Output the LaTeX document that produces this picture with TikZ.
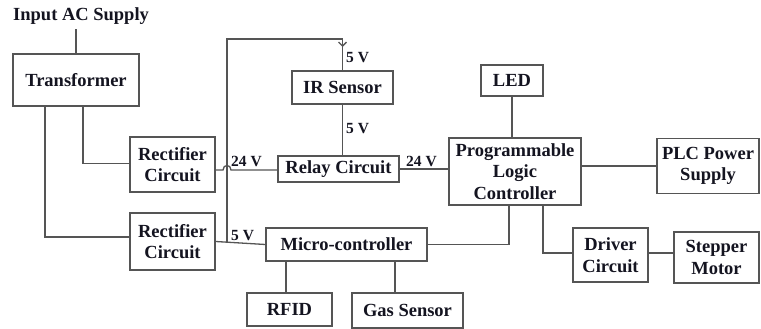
\documentclass[tikz,border=0pt]{standalone}
\usepackage{fontspec}
\setmainfont{Liberation Serif}
\usetikzlibrary{arrows.meta,decorations.markings}
\definecolor{linegray}{HTML}{555555}
\definecolor{txt}{HTML}{141420}
\begin{document}
\begin{tikzpicture}[x=1pt,y=-1pt,
  box/.style={draw=linegray,line width=1.3pt,inner sep=0pt,align=center,
    text=txt,font=\fontsize{18.5}{21.5}\selectfont\bfseries},
  lbl/.style={anchor=base west,inner sep=0pt,text=txt,font=\fontsize{15.5}{17}\selectfont\bfseries},
  wire/.style={draw=linegray,line width=1.3pt}]
\useasboundingbox (0,0) rectangle (761,329);
% nodes
\node[lbl,font=\fontsize{18.5}{21}\selectfont\bfseries] (inac) at (13,21) {Input AC Supply};
\node[box,minimum width=126,minimum height=52] (trans) at (76,80) {Transformer};
\node[box,minimum width=85,minimum height=55] (rect1) at (172.5,164.5) {Rectifier\\Circuit};
\node[box,minimum width=85,minimum height=57] (rect2) at (172.5,241.5) {Rectifier\\Circuit};
\node[box,minimum width=101,minimum height=33] (ir) at (342.5,87.5) {IR Sensor};
\node[box,minimum width=121,minimum height=26] (relay) at (338.5,169) {Relay Circuit};
\node[box,minimum width=132,minimum height=67] (plc) at (515,171.5) {Programmable\\Logic\\Controller};
\node[box,minimum width=62,minimum height=31] (led) at (512,80.5) {LED};
\node[box,minimum width=102,minimum height=55] (plcps) at (708,166) {PLC Power\\Supply};
\node[box,minimum width=161,minimum height=33] (micro) at (346.5,244.5) {Micro-controller};
\node[box,minimum width=85,minimum height=33] (rfid) at (289.5,309.5) {RFID};
\node[box,minimum width=111,minimum height=35] (gas) at (407.5,310.5) {Gas Sensor};
\node[box,minimum width=75,minimum height=54] (driver) at (610.5,255) {Driver\\Circuit};
\node[box,minimum width=85,minimum height=51] (stepper) at (716.5,257.5) {Stepper\\Motor};
% helper coordinates
\coordinate (t1) at (83,0);
\coordinate (t2) at (45,0);
\coordinate (bustop) at (227,39);
\coordinate (hopL) at (223,170);
\coordinate (hopR) at (231,170);
\coordinate (c1) at (509,0);
\coordinate (c2) at (543,0);
\coordinate (c3) at (286,0);
\coordinate (c4) at (395,0);
% labels
\node[lbl] (v5a) at (346,63) {5 V};
\node[lbl] (v5b) at (346,133) {5 V};
\node[lbl] (v24a) at (231,166) {24 V};
\node[lbl] (v24b) at (406,166) {24 V};
\node[lbl] (v5c) at (231,240) {5 V};
% connectors
\draw[wire] ([yshift=-4pt]inac.south -| trans.north) -- (trans.north);
\draw[wire] (trans.south -| t1) |- ([yshift=1pt]rect1.west);
\draw[wire] (trans.south -| t2) |- ([yshift=4.5pt]rect2.west);
\draw[wire] (rect2.east) -- (micro.west);
\draw[wire] (rect2.east -| bustop) -- (bustop) -- (bustop -| ir.north) -- (ir.north);
\draw[wire,-{Straight Barb[length=4pt,width=8pt]}] (bustop -| ir.north) -- ([yshift=-8pt]bustop -| ir.north);
\draw[wire] ([yshift=-5.5pt]rect1.east) -- (hopL) .. controls ([yshift=6pt]hopL) and ([yshift=6pt]hopR) .. (hopR) -- (hopR -| relay.west);
\draw[wire] (ir.south) -- (ir.south |- relay.north);
\draw[wire] (relay.east) -- (relay.east -| plc.west);
\draw[wire] (led.south) -- (led.south |- plc.north);
\draw[wire] (plc.east |- plcps.west) -- (plcps.west);
\draw[wire] (micro.east) -| (c1 |- plc.south);
\draw[wire] (c2 |- plc.south) |- ([yshift=2pt]driver.west);
\draw[wire] ([yshift=2pt]driver.east) -- ([yshift=2pt]driver.east -| stepper.west);
\draw[wire] (micro.south -| c3) -- (c3 |- rfid.north);
\draw[wire] (micro.south -| c4) -- (c4 |- gas.north);
\end{tikzpicture}
\end{document}
